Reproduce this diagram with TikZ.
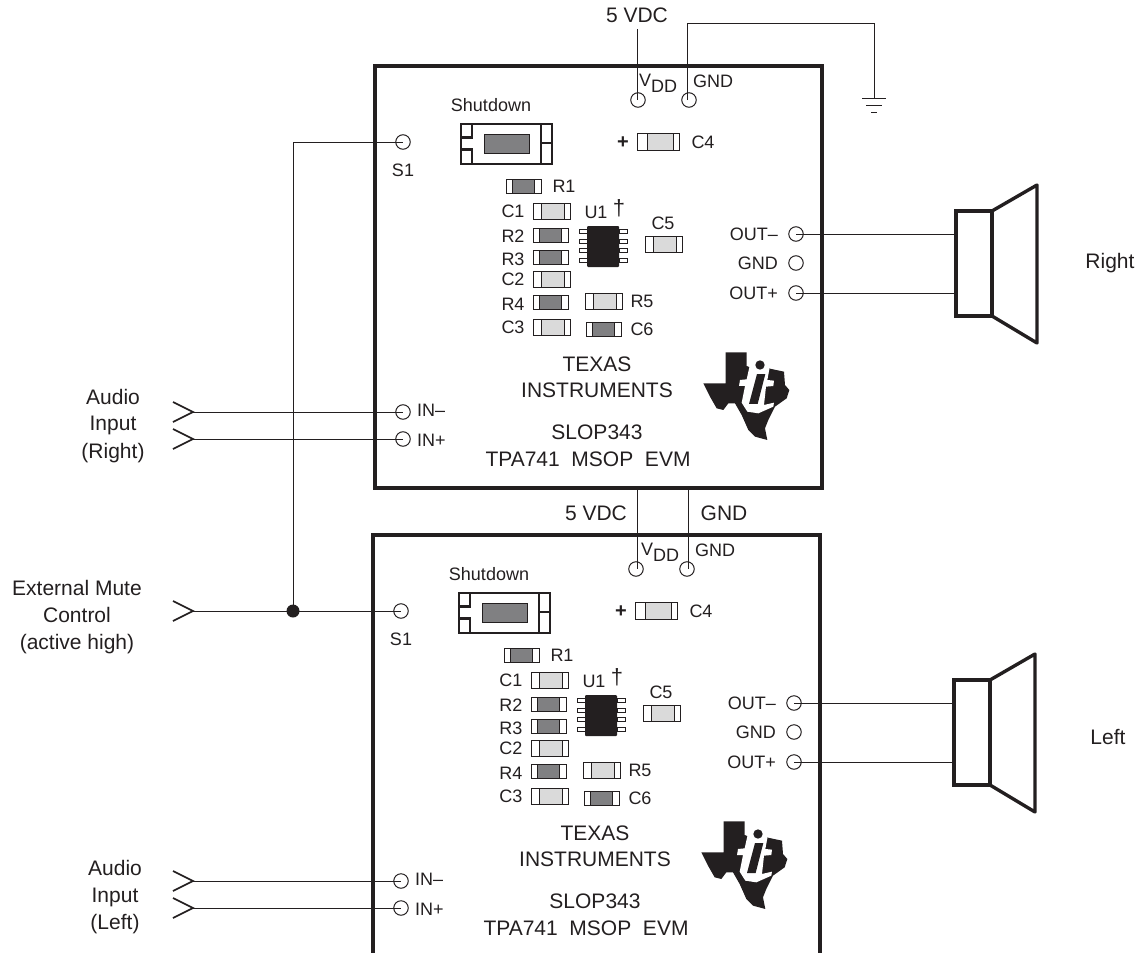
\documentclass[tikz,border=0pt]{standalone}
\usepackage{fontspec}
\setmainfont{Liberation Sans}
\definecolor{inkline}{HTML}{231F20}
\definecolor{partdark}{HTML}{808082}
\definecolor{partlight}{HTML}{DADADA}
\tikzset{
  boardline/.style={color=inkline, line width=3.4pt},
  wire/.style={color=inkline, line width=0.9pt},
  jackline/.style={color=inkline, line width=1.7pt},
  partline/.style={draw=inkline, line width=1pt},
  terminal/.style={draw=inkline, line width=1pt, circle, inner sep=0pt, minimum size=14.5pt},
  speakerbody/.style={draw=inkline, line width=3.4pt, rectangle, inner sep=0pt, outer sep=0pt, minimum width=36pt, minimum height=105pt},
  biglabel/.style={color=inkline, inner sep=0pt, text height=15pt, text depth=0pt, font=\fontsize{21}{24}\selectfont},
  smalllabel/.style={color=inkline, inner sep=0pt, text height=13pt, text depth=0pt, font=\fontsize{18}{21}\selectfont},
}
\begin{document}
\begin{tikzpicture}[%
      x=1pt,y=-1pt,
      ]
      \useasboundingbox (0,0) rectangle (1141,953);
      \clip (0,0) rectangle (1141,953);

      \foreach \brd/\dx/\dy/\lx/\side/\sidey in {r/0/0/0/Right/261, l/-2/469/4/Left/268} {
      \begin{scope}[shift={(\dx,\dy)}]
        \draw [boardline] (375,66) rectangle (822,488);

        % terminals
        \foreach \tname/\tx/\ty in {vdd/638/100, gnd/689/100, s/403/142, inm/403/412, inp/403/439, outm/796/234, outg/796/263, outp/796/293}
          \node (\brd\tname) [terminal] at (\tx,\ty) {};

        \node (\brd vddlab) [smalllabel] at (658+\lx,86) {\raisebox{6pt}{V}DD};
        \node (\brd gndlab) [smalllabel] at (713+\lx,81) {GND};
        \node (\brd slab) [smalllabel] at (403,170) {S1};
        \node (\brd inmlab) [smalllabel, anchor=west] at (417,410) {IN–};
        \node (\brd inplab) [smalllabel, anchor=west] at (417,440) {IN+};
        \node (\brd outmlab) [smalllabel, anchor=east] at (778,234) {OUT–};
        \node (\brd outglab) [smalllabel, anchor=east] at (778,263) {GND};
        \node (\brd outplab) [smalllabel, anchor=east] at (778,293) {OUT+};

        % shutdown switch
        \node (\brd shutlab) [smalllabel] at (491,105) {Shutdown};
        \filldraw [color=inkline, fill=partdark, line width=1pt] (484,134) rectangle (529,153);
        \draw [color=inkline, line width=2.4pt] (472,124) rectangle (461,137.5);
        \draw [color=inkline, line width=2.4pt] (472,164) rectangle (461,149.5);
        \draw [color=inkline, line width=2.4pt] (541,124) rectangle (552,143);
        \draw [color=inkline, line width=2.4pt] (541,164) rectangle (552,143);
        \draw [color=inkline, line width=2.8pt] (461,124) rectangle (552,164);

        % chip parts
        \filldraw [partline, fill=white] (637,133) rectangle (679,150);
        \filldraw [partline, fill=partlight] (647,133) rectangle (673,150);
        \foreach \px/\py in {552/211, 552/279, 552/327, 664/244, 604/301} {
          \filldraw [partline, fill=white] (\px-18.5,\py-8) rectangle (\px+18.5,\py+8);
          \filldraw [partline, fill=partlight] (\px-10.5,\py-8) rectangle (\px+12.5,\py+8);
        }
        \foreach \px/\py in {524/186, 551/235, 551/257, 551/302, 604/329} {
          \filldraw [partline, fill=white] (\px-17.5,\py-7) rectangle (\px+17.5,\py+7);
          \filldraw [partline, fill=partdark] (\px-11.5,\py-7) rectangle (\px+10.5,\py+7);
        }
        \foreach \pname/\px/\py in {R1/564/186, C1/513/211, R2/513/236, R3/513/259, C2/513/279, R4/513/304, C3/513/327, R5/642/301, C6/642/329, C5/663/223, C4/703/142, U1/596/212}
          \node (\brd\pname) [smalllabel] at (\px,\py) {\pname};
        \node (\brd dagger) [smalllabel, font=\fontsize{22}{24}\selectfont] at (619,209) {†};
        \node (\brd plus) [smalllabel, font=\fontsize{20}{24}\bfseries] at (623,142) {+};

        % amplifier chip
        \foreach \py in {231,241,250,260} {
          \filldraw [partline, fill=white] (579,\py-2) rectangle (587,\py+2);
          \filldraw [partline, fill=white] (619,\py-2) rectangle (627,\py+2);
        }
        \fill [color=inkline, rounded corners=1pt] (587,226) rectangle (619,267);

        % board text
        \node (\brd texas) [biglabel] at (597,364) {TEXAS};
        \node (\brd instr) [biglabel] at (597,390) {INSTRUMENTS};
        \node (\brd slop) [biglabel] at (597,432) {SLOP343};
        \node (\brd tpa) [biglabel] at (588,459) {TPA741\ \ MSOP\ \ EVM};

        % logo
        \begin{scope}[shift={(690,340)}, x=0.3333pt, y=-0.3333pt]
          \fill [color=inkline] (107,37) -- (170,37) -- (170,78) -- (200,90) -- (235,85) -- (282,95) -- (285,135) -- (298,150) -- (290,175) -- (255,200) -- (235,240) -- (225,265) -- (232,300) -- (195,290) -- (175,270) -- (155,225) -- (135,190) -- (115,190) -- (100,210) -- (80,205) -- (60,170) -- (40,130) -- (107,130) -- cycle;
          \fill [color=white] (178,82) -- (170,118) -- (150,120) -- (147,138) -- (165,138) -- (155,188) -- (172,215) -- (205,220) -- (250,200) -- (252,188) -- (222,195) -- (228,140) -- (250,138) -- (252,122) -- (232,120) -- (238,88) -- (228,55) -- (195,55) -- cycle;
          \fill [color=inkline] (201,102) -- (226,102) -- (203,192) -- (177,192) -- cycle;
          \fill [color=inkline] (210,75) circle (14);
        \end{scope}

        % speaker
        \node (\brd spk) [speakerbody] at (974,263.5) {};
        \draw [boardline, line join=round] (\brd spk.north east) -- ++(45,-26) -- ++(0,158) -- (\brd spk.south east);
        \draw [wire] (\brd outm.center) -- (\brd outm.center -| \brd spk.west);
        \draw [wire] (\brd outp.center) -- (\brd outp.center -| \brd spk.west);
        \node (\brd side) [biglabel] at (1110,\sidey) {\side};
      \end{scope}
      }

      % supply wiring
      \node (vdctop) [biglabel] at (637,15) {5 VDC};
      \coordinate (vddrise) at (637.3,29);
      \coordinate (gndrise) at (687.5,23);
      \coordinate (gndcorner) at (874,23);
      \coordinate (groundtop) at (874,98);
      \draw [wire] (vddrise) -- (vddrise |- rvdd.center);
      \draw [wire] (gndrise |- rgnd.center) -- (gndrise) -- (gndcorner) -- (groundtop);
      \draw [wire] (groundtop) ++(-12,0) -- ++(24,0);
      \draw [wire] (groundtop) ++(-8,7) -- ++(16,0);
      \draw [wire] (groundtop) ++(-3,14) -- ++(6,0);

      \node (vdcmid) [biglabel] at (596,513) {5 VDC};
      \node (gndmid) [biglabel] at (724,513) {GND};
      \coordinate (vddlink) at (637.3,488);
      \coordinate (gndlink) at (688.3,488);
      \draw [wire] (vddlink) -- (vddlink |- lvdd.center);
      \draw [wire] (gndlink) -- (gndlink |- lgnd.center);

      % inputs
      \foreach \jack/\term/\jy in {jackrm/rinm/412, jackrp/rinp/439, jacklm/linm/881, jacklp/linp/908, jackmute/ls/611} {
        \coordinate (\jack) at (193,\jy);
        \draw [jackline, line join=miter] (\jack) ++(-20,-10) -- (\jack) -- ++(-20,10);
        \draw [wire] (\jack) -- (\term.center);
      }
      \node (mutedot) [fill=inkline, circle, inner sep=0pt, minimum size=13pt] at (293,611) {};
      \draw [wire] (mutedot.center) |- (rs.center);

      \node (audior) [biglabel] at (113,397) {Audio};
      \node (inputr) [biglabel] at (113,423) {Input};
      \node (rightr) [biglabel] at (113,451) {(Right)};
      \node (extmute) [biglabel] at (77,588) {External Mute};
      \node (control) [biglabel] at (77,615) {Control};
      \node (active) [biglabel] at (77,642) {(active high)};
      \node (audiol) [biglabel] at (115,868) {Audio};
      \node (inputl) [biglabel] at (115,895) {Input};
      \node (leftl) [biglabel] at (115,922) {(Left)};
\end{tikzpicture}
\end{document}
